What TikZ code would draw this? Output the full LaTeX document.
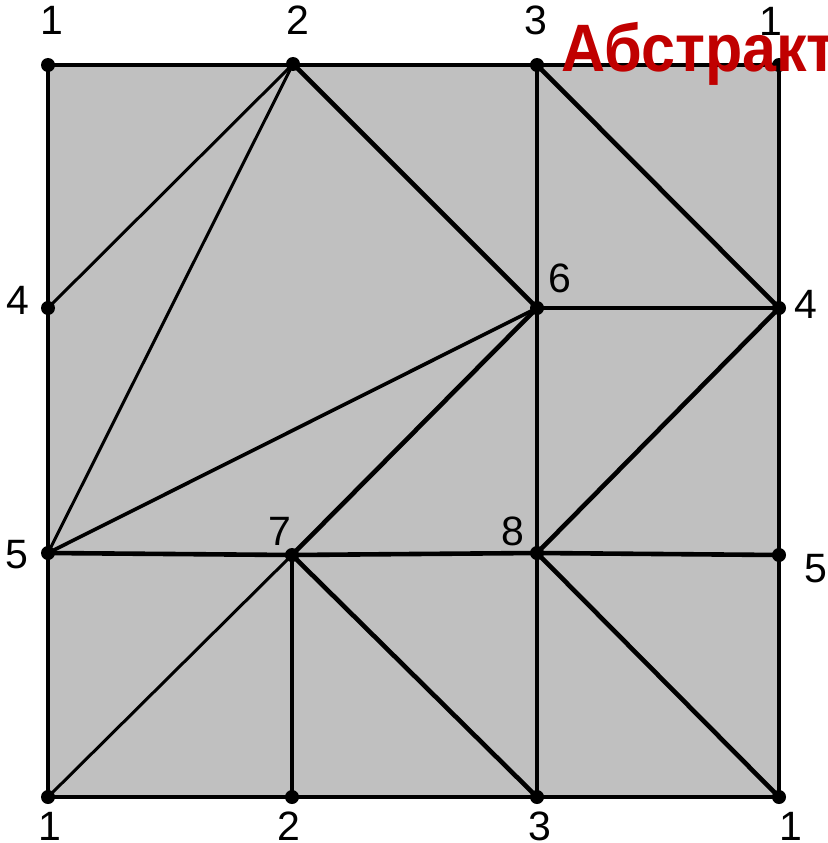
\documentclass[tikz,border=0pt]{standalone}
\usepackage{fontspec}
\setmainfont{Liberation Sans}
\begin{document}
\begin{tikzpicture}[x=1pt,y=-1pt,
  edge/.style={line width=4.6pt},
  thinedge/.style={line width=3pt},
  vtx/.style={circle,fill=black,inner sep=0pt,minimum size=14pt},
  lbl/.style={font=\fontsize{41}{41}\selectfont,inner sep=0pt}]
\useasboundingbox (0,0) rectangle (827,843);
\clip (0,0) rectangle (827,843);
% vertices
\coordinate (t1) at (48,65);
\coordinate (t2) at (293,64);
\coordinate (t3) at (537,65);
\coordinate (t4) at (779,65);
\coordinate (l4) at (48,308);
\coordinate (m6) at (537,308);
\coordinate (r4) at (779,308);
\coordinate (l5) at (48,553);
\coordinate (m7) at (292,555);
\coordinate (m8) at (537,553);
\coordinate (r5) at (779,555);
\coordinate (b1) at (48,797);
\coordinate (b2) at (292,797);
\coordinate (b3) at (537,797);
\coordinate (b4) at (779,797);
% fill
\fill[fill={rgb,255:red,192;green,192;blue,192}] (t1) -- (t4) -- (b4) -- (b1) -- cycle;
% edges
\draw[edge] (t1) -- (t4) -- (b4) -- (b1) -- cycle;
\draw[thinedge] (l4) -- (t2);
\draw[thinedge] (l5) -- (t2);
\draw[edge] (t2) -- (m6);
\draw[edge] (t3) -- (m6) -- (m8) -- (b3);
\draw[edge] (t3) -- (r4);
\draw[edge] (m6) -- (r4);
\draw[line width=3.6pt] (l5) -- (m6);
\draw[edge] (m7) -- (m6);
\draw[edge] (m8) -- (r4);
\draw[edge] (l5) -- (m7) -- (m8) -- (r5);
\draw[thinedge] (b1) -- (m7);
\draw[edge] (m7) -- (b2);
\draw[edge] (m7) -- (b3);
\draw[edge] (m8) -- (b4);
% dots
\foreach \p in {t1,t2,t3,t4,l4,m6,r4,l5,m7,m8,r5,b1,b2,b3,b4}
  \node[vtx] (d\p) at (\p) {};
% labels
\node[lbl] (Lt1) at (52,20) {1};
\node[lbl] (Lt2) at (298,20) {2};
\node[lbl] (Lt3) at (536,20) {3};
\node[lbl] (Lt4) at (771,21) {1};
\node[lbl] (Ll4) at (18,300) {4};
\node[lbl] (Lm6) at (560,278) {6};
\node[lbl] (Lr4) at (806,304) {4};
\node[lbl] (Ll5) at (17,555) {5};
\node[lbl] (Lm7) at (280,531) {7};
\node[lbl] (Lm8) at (513,531) {8};
\node[lbl] (Lr5) at (816,569) {5};
\node[lbl] (Lb1) at (50,826) {1};
\node[lbl] (Lb2) at (289,826) {2};
\node[lbl] (Lb3) at (540,826) {3};
\node[lbl] (Lb4) at (791,826) {1};
% title
\node[anchor=base west,inner sep=0pt,text={rgb,255:red,192;green,0;blue,0},
  font=\fontsize{61}{61}\selectfont\bfseries] (title) at (561,71) {\scalebox{1}[1.1]{Абстракт}};
\end{tikzpicture}
\end{document}
